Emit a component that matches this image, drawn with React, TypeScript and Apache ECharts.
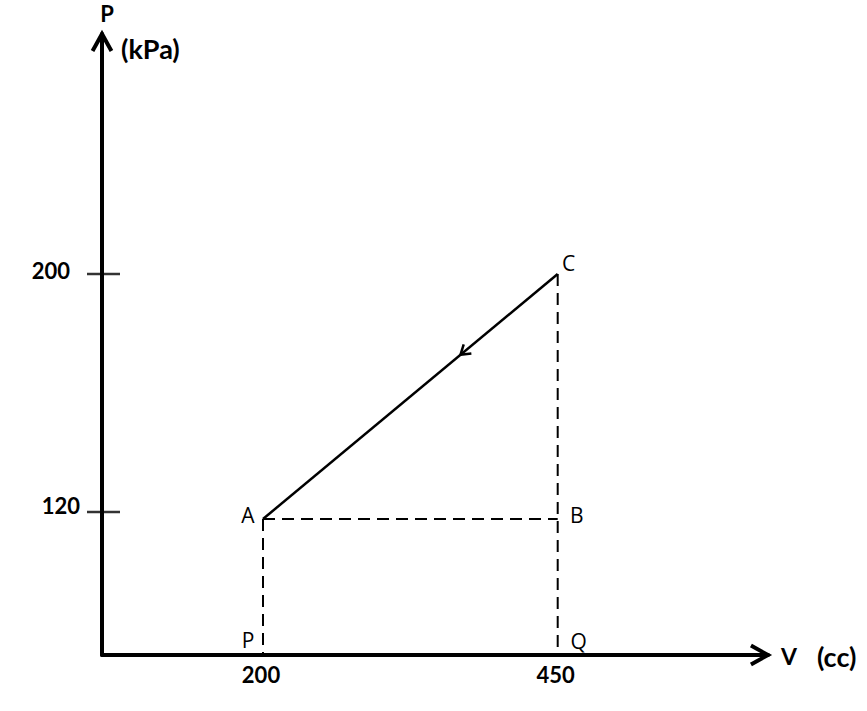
import React, { useEffect, useRef } from "react";
import * as echarts from "echarts";

// ---- data ----
const X_TICKS = [200, 450];
const Y_TICKS = [120, 200];
const POINT_NAMES = ["A", "B", "C", "P", "Q"];
const POINT_V = [200, 450, 450, 200, 450];
const POINT_P = [117.65, 117.65, 200, 71.93, 71.93];
const PROCESS = ["C", "A"];
const GUIDES = [["A", "B"], ["C", "Q"], ["A", "P"]];
const AXIS_TITLES = ["P", "(kPa)", "V", "(cc)"];

// axis extents (schematic, origin not at zero)
const X_MIN = 63.42;
const X_MAX = 628.4;
const Y_MIN = 71.93;
const Y_MAX = 280.67;

const FONT = "Lato, 'Open Sans', sans-serif";
const LABEL_FONT = "'Open Sans', Lato, sans-serif";

const LABEL_OFFSET: Record<string, [number, number]> = {
  A: [-15, -4],
  B: [19, -4],
  C: [11, -11],
  P: [-15, -15],
  Q: [21, -14],
};

function pt(name: string): [number, number] {
  const i = POINT_NAMES.indexOf(name);
  return [POINT_V[i], POINT_P[i]];
}

export default function App() {
  const ref = useRef<HTMLDivElement>(null);
  useEffect(() => {
    if (!ref.current) return;
    const chart = echarts.init(ref.current, null, { renderer: "svg" });

    const c = pt(PROCESS[0]);
    const a = pt(PROCESS[1]);
    // arrow defs: from, to, fraction, arm length, half angle, width
    const arrows = [
      [X_MIN, Y_MIN, X_MIN, Y_MAX, 1, 19.5, 29, 4],
      [X_MIN, Y_MIN, X_MAX, Y_MIN, 1, 19.5, 29, 4],
      [c[0], c[1], a[0], a[1], 0.33, 11, 33, 2.5],
    ];

    const series: any[] = [];
    series.push({
      type: "line",
      data: [c, a],
      symbol: "none",
      lineStyle: { color: "#000", width: 2.5 },
      z: 5,
    });
    GUIDES.forEach(([p, q]) => {
      series.push({
        type: "line",
        data: [pt(p), pt(q)],
        symbol: "none",
        lineStyle: { color: "#000", width: 2, type: [12, 7] },
        z: 4,
      });
    });
    // y tick marks crossing the axis
    series.push({
      type: "scatter",
      data: Y_TICKS.map((v) => [X_MIN, v]),
      symbol: "rect",
      symbolSize: [33, 2.5],
      symbolOffset: [1.5, 0],
      itemStyle: { color: "#000" },
      clip: false,
      z: 6,
    });
    // point labels
    series.push({
      type: "scatter",
      data: POINT_NAMES.map((n, i) => ({
        value: [POINT_V[i], POINT_P[i]],
        label: { offset: LABEL_OFFSET[n] },
      })),
      symbolSize: 1,
      itemStyle: { color: "#fff", opacity: 0 },
      clip: false,
      label: {
        show: true,
        position: "inside",
        formatter: (p: any) => POINT_NAMES[p.dataIndex],
        fontFamily: LABEL_FONT,
        fontSize: 21,
        color: "#000",
        opacity: 1,
        textBorderWidth: 0,
        textBorderColor: "transparent",
        align: "center",
        verticalAlign: "middle",
      },
      z: 7,
    });
    // arrowheads
    series.push({
      type: "custom",
      data: arrows,
      clip: false,
      z: 8,
      renderItem: (params: any, api: any) => {
        const x1 = api.value(0), y1 = api.value(1), x2 = api.value(2), y2 = api.value(3);
        const t = api.value(4), L = api.value(5), ang = (api.value(6) * Math.PI) / 180, w = api.value(7);
        const p1 = api.coord([x1, y1]);
        const p2 = api.coord([x2, y2]);
        const dx = p2[0] - p1[0], dy = p2[1] - p1[1];
        const len = Math.hypot(dx, dy);
        const bx = -dx / len, by = -dy / len;
        const tip = [p1[0] + dx * t, p1[1] + dy * t];
        const rot = (s: number) => [
          tip[0] + L * (bx * Math.cos(s) - by * Math.sin(s)),
          tip[1] + L * (bx * Math.sin(s) + by * Math.cos(s)),
        ];
        return {
          type: "polyline",
          shape: { points: [rot(ang), tip, rot(-ang)] },
          style: { stroke: "#000", lineWidth: w, fill: "none", lineJoin: "miter" },
        };
      },
    });

    chart.setOption({
      animation: false,
      backgroundColor: "#fff",
      grid: { left: 102, right: 99, top: 34, bottom: 56, containLabel: false },
      xAxis: {
        type: "value",
        min: X_MIN,
        max: X_MAX,
        splitLine: { show: false },
        axisTick: { show: false },
        axisLine: { show: true, onZero: false, lineStyle: { color: "#000", width: 4 } },
        axisLabel: {
          customValues: X_TICKS,
          margin: 8,
          fontFamily: FONT,
          fontWeight: "bold",
          fontSize: 22,
          color: "#000",
          padding: [0, 4, 0, 0],
        },
      },
      yAxis: {
        type: "value",
        min: Y_MIN,
        max: Y_MAX,
        splitLine: { show: false },
        axisTick: { show: false },
        axisLine: { show: true, onZero: false, lineStyle: { color: "#000", width: 4 } },
        axisLabel: {
          customValues: Y_TICKS,
          margin: 22,
          formatter: (v: number) => (v === Y_TICKS[1] ? `{a|${v}}` : `{b|${v}}`),
          rich: {
            a: { fontFamily: FONT, fontWeight: "bold", fontSize: 22, color: "#000", padding: [0, 10, 6, 0] },
            b: { fontFamily: FONT, fontWeight: "bold", fontSize: 22, color: "#000", padding: [0, 0, 12, 0] },
          },
        },
      },
      graphic: [
        { type: "text", x: 107, y: 13, style: { text: AXIS_TITLES[0], font: `bold 22px ${FONT}`, fill: "#000", align: "center", verticalAlign: "middle" } },
        { type: "text", x: 121, y: 48, style: { text: AXIS_TITLES[1], font: `bold 27px ${FONT}`, fill: "#000", align: "left", verticalAlign: "middle" } },
        { type: "text", x: 781, y: 656, style: { text: AXIS_TITLES[2], font: `bold 23px ${FONT}`, fill: "#000", align: "left", verticalAlign: "middle" } },
        { type: "text", x: 817, y: 656, style: { text: AXIS_TITLES[3], font: `bold 27px ${FONT}`, fill: "#000", align: "left", verticalAlign: "middle" } },
      ],
      series,
    });
    return () => chart.dispose();
  }, []);
  return (
    <div
      ref={ref}
      style={{ position: "fixed", left: 0, top: 0, width: 867, height: 711, background: "#fff" }}
    />
  );
}
